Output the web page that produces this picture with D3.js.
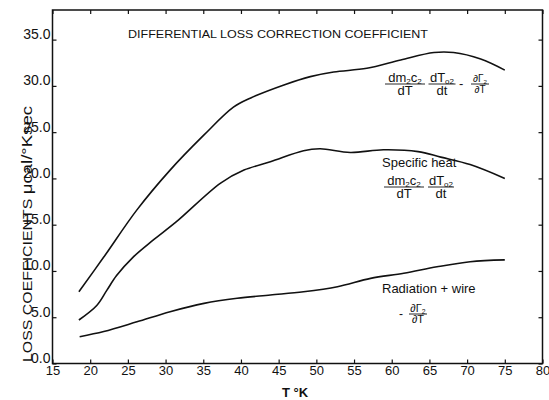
<!DOCTYPE html>
<meta charset="utf-8">
<script src="https://d3js.org/d3.v7.min.js"></script>
<style>
body { margin: 0; background: #fff; }
text { font-family: "Liberation Sans", Arial, sans-serif; fill: #111; }
</style>
<body>
<svg width="549" height="400"></svg>
<script>
// values (T in K, coefficient in microcal/K sec)
var totalT   = [18.5, 21.8, 26.2, 30.6, 35.1, 39.0, 41.3, 45.7, 49.2, 52.3, 56.7, 61.2, 65.6, 68.2, 71.8, 75.0];
var totalV   = [7.75, 11.5, 16.6, 20.9, 24.7, 27.7, 28.7, 30.1, 31.0, 31.5, 31.9, 32.8, 33.6, 33.6, 32.9, 31.7];
var heatT    = [18.5, 20.9, 22.2, 23.5, 25.7, 28.3, 31.4, 37.3, 40.4, 43.9, 48.3, 50.5, 54.5, 58.9, 63.5, 66.5, 70.4, 75.0];
var heatV    = [4.7, 6.3, 7.9, 9.5, 11.5, 13.3, 15.3, 19.5, 20.9, 21.8, 23.0, 23.2, 22.8, 23.1, 22.9, 22.3, 21.5, 20.0];
var radT     = [18.6, 21.8, 26.2, 30.6, 35.1, 39.5, 43.9, 48.3, 52.8, 57.2, 61.6, 66.0, 70.4, 75.0];
var radV     = [2.9, 3.45, 4.5, 5.6, 6.5, 7.05, 7.4, 7.75, 8.3, 9.2, 9.75, 10.45, 11.0, 11.2];
var xTicks   = [15, 20, 25, 30, 35, 40, 45, 50, 55, 60, 65, 70, 75, 80];
var yTicks   = [0, 5, 10, 15, 20, 25, 30, 35];

var svg = d3.select('svg');
var mL = 52.5, mR = 542.5, mT = 10, mB = 363.5;

var x = d3.scaleLinear().domain([15, 80]).range([mL, mR]);
var y = d3.scaleLinear().domain([0, 38.2]).range([mB, mT]);

// frame
svg.append('rect')
    .attr('x', mL).attr('y', mT)
    .attr('width', mR - mL).attr('height', mB - mT)
    .attr('fill', 'none').attr('stroke', '#111').attr('stroke-width', 1.5);

// inward ticks on all four sides
function ticks(g){ g.select('.domain').remove(); g.selectAll('line').attr('stroke', '#111').attr('stroke-width', 1.2); }

svg.append('g').attr('transform', 'translate(0,' + mB + ')')
    .call(d3.axisBottom(x).tickValues(xTicks).tickSize(-4).tickPadding(0).tickFormat(d3.format('d')))
    .call(ticks)
    .call(function(g){ g.attr('font-family', null).attr('font-size', null); })
    .selectAll('text').attr('y', 11).attr('dy', 0).style('font-size', '13px');

svg.append('g').attr('transform', 'translate(0,' + mT + ')')
    .call(d3.axisTop(x).tickValues(xTicks).tickSize(-4).tickFormat(''))
    .call(ticks);

svg.append('g').attr('transform', 'translate(' + mL + ',0)')
    .call(d3.axisLeft(y).tickValues(yTicks).tickSize(-4).tickFormat(d3.format('.1f')))
    .call(ticks)
    .call(function(g){ g.attr('font-family', null).attr('font-size', null); })
    .selectAll('text').attr('text-anchor', 'end').attr('x', -2).attr('y', -6).attr('dy', '0.35em').style('font-size', '14px');

svg.append('g').attr('transform', 'translate(' + mR + ',0)')
    .call(d3.axisRight(y).tickValues(yTicks).tickSize(-4).tickFormat(''))
    .call(ticks);

// curves
var line = d3.line().curve(d3.curveCatmullRom.alpha(0.5))
    .x(function(d){ return x(d[0]); })
    .y(function(d){ return y(d[1]); });

[[totalT, totalV], [heatT, heatV], [radT, radV]].forEach(function(s){
  svg.append('path')
      .datum(d3.zip(s[0], s[1]))
      .attr('fill', 'none').attr('stroke', '#111').attr('stroke-width', 1.6)
      .attr('d', line);
});

// title and axis titles
svg.append('text').attr('x', 128).attr('y', 38)
    .attr('textLength', 300).attr('lengthAdjust', 'spacingAndGlyphs')
    .style('font-size', '11px')
    .text('DIFFERENTIAL  LOSS  CORRECTION  COEFFICIENT');

svg.append('text').attr('x', 295).attr('y', 397).attr('text-anchor', 'middle')
    .style('font-size', '13px').style('font-weight', 'bold').text('T °K');

var yl = svg.append('text').attr('transform', 'translate(32,234) rotate(-90)')
    .attr('text-anchor', 'middle')
    .attr('textLength', 256).attr('lengthAdjust', 'spacingAndGlyphs');
yl.append('tspan').style('font-size', '12px').text('LOSS  COEFFICIENTS  ');
yl.append('tspan').style('font-size', '14px').text('μcal/°Ksec');

// fraction helper: pieces are [text, subscript]
function frac(cx, cy, num, den, size, w){
  var g = svg.append('g');
  function put(parts, yy){
    var t = g.append('text').attr('x', cx).attr('y', yy).attr('text-anchor', 'middle').style('font-size', size + 'px');
    var shift = 0;
    parts.forEach(function(p){
      t.append('tspan').attr('dy', -shift).text(p[0]);
      shift = 0;
      if (p[1]) {
        shift = size * 0.2;
        t.append('tspan').attr('dy', shift).style('font-size', (size * 0.62) + 'px').text(p[1]);
      }
    });
  }
  put(num, cy - 2.5);
  put(den, cy + size * 0.85);
  g.append('line').attr('x1', cx - w / 2).attr('x2', cx + w / 2)
      .attr('y1', cy).attr('y2', cy).attr('stroke', '#111').attr('stroke-width', 0.9);
}

function txt(xx, yy, s, size){
  return svg.append('text').attr('x', xx).attr('y', yy).style('font-size', size + 'px').text(s);
}

// total label
frac(405, 84, [['dm', '2'], ['c', '2']], [['dT']], 13, 40);
frac(442, 84, [['dT', 'o2']], [['dt']], 13, 27);
txt(459, 88, '-', 13);
frac(480, 84, [['∂Γ', '2']], [['∂T']], 10, 18);

// specific heat label
txt(382, 167, 'Specific heat', 13);
frac(404, 187, [['dm', '2'], ['c', '2']], [['dT']], 13, 40);
frac(441, 187, [['dT', 'o2']], [['dt']], 13, 26);

// radiation label
txt(382, 293, 'Radiation + wire', 13);
txt(399, 318, '-', 12);
frac(418, 314, [['∂Γ', '2']], [['∂T']], 11, 18);
</script>
